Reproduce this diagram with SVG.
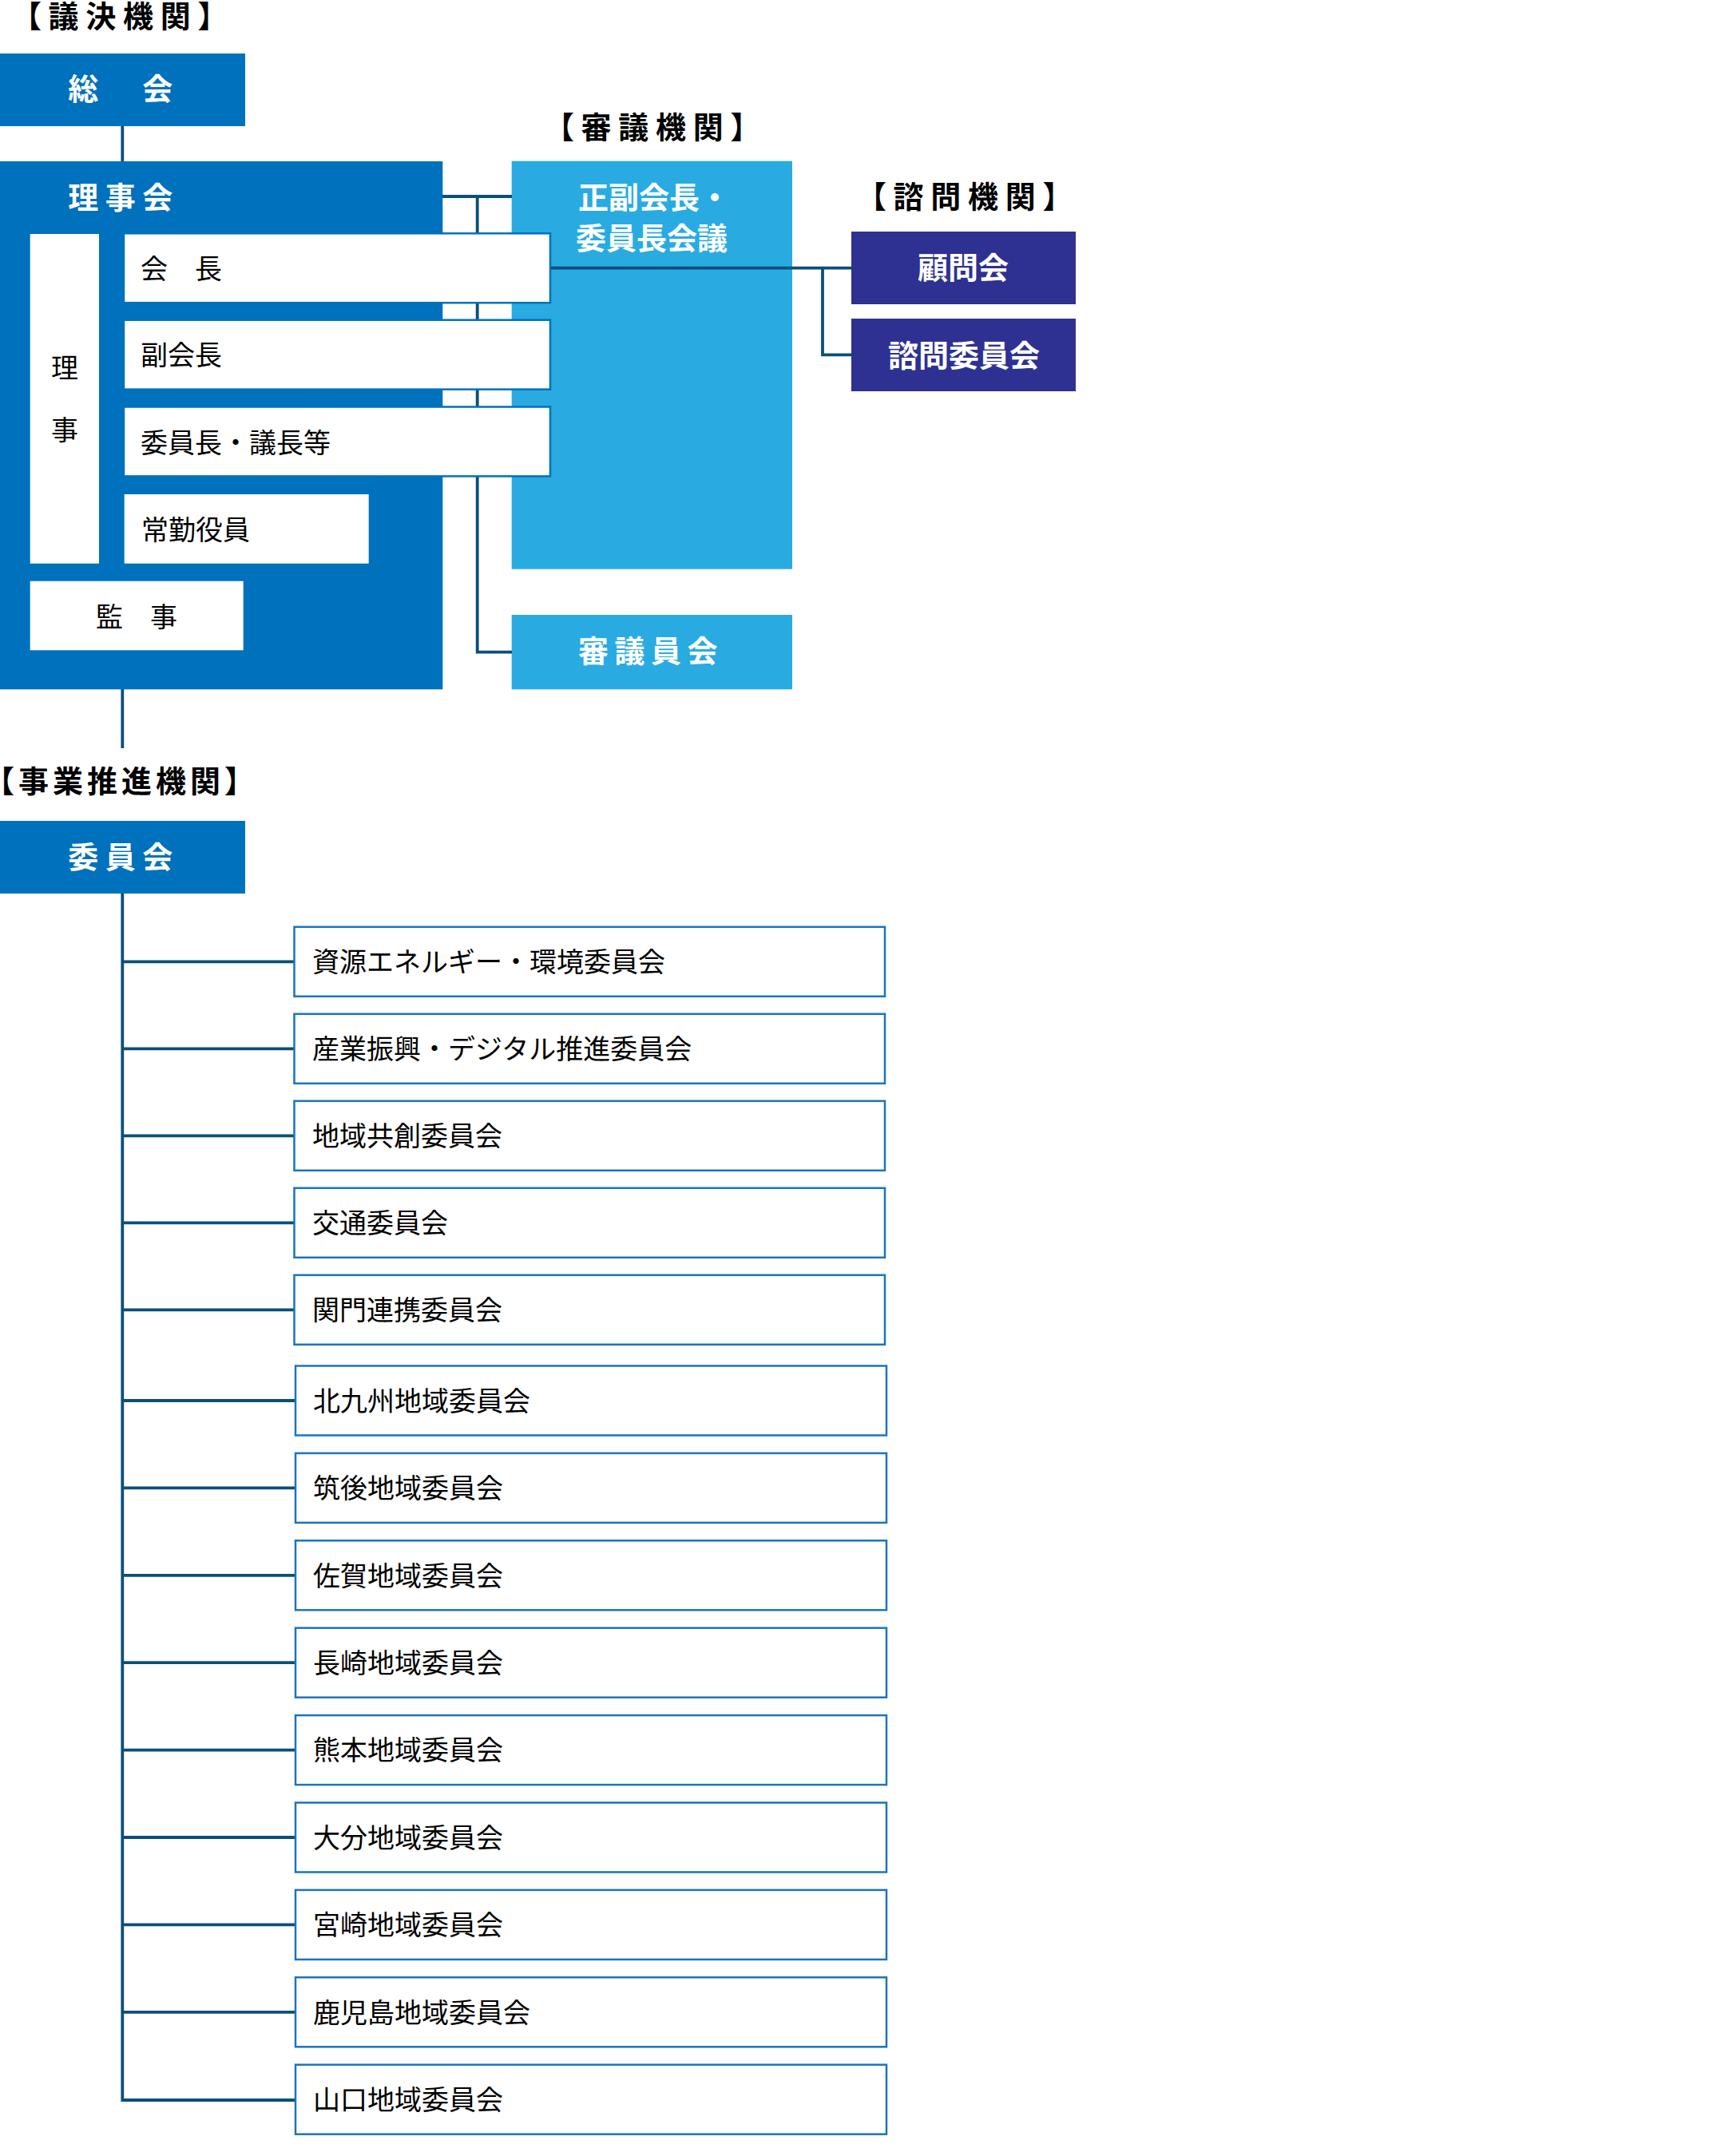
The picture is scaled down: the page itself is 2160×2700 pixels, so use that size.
<svg xmlns="http://www.w3.org/2000/svg" width="2160" height="2700" viewBox="0 0 2160 2700">
<style>
.dk{fill:#0071bc}
.lt{fill:#29abe2}
.nv{fill:#2e3192}
.wb{fill:#fff}
.wbs{fill:#fff;stroke:#0071bc;stroke-width:2.5}
.cb{fill:#fff;stroke:#1a74bf;stroke-width:2.5}
.ln{stroke:#0a4f7c;stroke-width:3.8;fill:none;stroke-linejoin:miter}
.hd{font-family:"Noto Sans CJK JP","Noto Sans",sans-serif;font-weight:700;font-size:38px;fill:#000}
.wl{font-family:"Noto Sans CJK JP","Noto Sans",sans-serif;font-weight:700;font-size:38px;fill:#fff}
.bl{font-family:"Noto Sans CJK JP","Noto Sans",sans-serif;font-weight:400;font-size:34px;fill:#000}
.ct{font-family:"Noto Sans CJK JP","Noto Sans",sans-serif;font-weight:400;font-size:34px;fill:#000}
</style>
<rect width="2160" height="2700" fill="#fff"/>

<!-- Headings -->
<g id="headings">
<text class="hd" x="154" y="34" text-anchor="middle" letter-spacing="8.7">【議決機関】</text>
<text class="hd" x="821" y="173" text-anchor="middle" letter-spacing="8.7">【審議機関】</text>
<text class="hd" x="1212" y="260" text-anchor="middle" letter-spacing="8.7">【諮問機関】</text>
<text class="hd" x="152" y="992" text-anchor="middle" letter-spacing="5">【事業推進機関】</text>
</g>

<!-- Main nodes (backgrounds) -->
<g id="soukai">
<rect class="dk" x="0" y="67" width="307" height="91"/>
<text class="wl" x="155" y="125" text-anchor="middle" letter-spacing="8.5">総　会</text>
</g>
<g id="rijikai">
<rect class="dk" x="0" y="202" width="554.3" height="661.3"/>
<text class="wl" x="155" y="261" text-anchor="middle" letter-spacing="8.5">理事会</text>
</g>
<g id="seifuku">
<rect class="lt" x="640.7" y="201.7" width="351.3" height="511"/>
<text class="wl" x="819" y="261" text-anchor="middle">正副会長・</text>
<text class="wl" x="816" y="312" text-anchor="middle">委員長会議</text>
</g>
<g id="shingiinkai">
<rect class="lt" x="640.7" y="770" width="351.3" height="93.3"/>
<text class="wl" x="815" y="829" text-anchor="middle" letter-spacing="7.5">審議員会</text>
</g>
<g id="komonkai">
<rect class="nv" x="1066" y="290" width="281" height="91"/>
<text class="wl" x="1206" y="349" text-anchor="middle">顧問会</text>
</g>
<g id="shimon">
<rect class="nv" x="1066" y="399" width="281" height="91"/>
<text class="wl" x="1207" y="459" text-anchor="middle">諮問委員会</text>
</g>
<g id="iinkai">
<rect class="dk" x="0" y="1028" width="307" height="91"/>
<text class="wl" x="155" y="1087" text-anchor="middle" letter-spacing="8.5">委員会</text>
</g>

<!-- Connectors -->
<g id="connectors">
<path class="ln" d="M153.3 158 V202"/>
<path class="ln" d="M554 246 H641"/>
<path class="ln" d="M597.7 246 V816.7 H641"/>
<path class="ln" d="M690 335.7 H1066"/>
<path class="ln" d="M1030 335.7 V444.3 H1066"/>
<path class="ln" d="M153.3 863 V937"/>
<path class="ln" d="M153.3 1119 V2630 H369"/>
<path class="ln" d="M153.3 1204.3 H368"/>
<path class="ln" d="M153.3 1313.3 H368"/>
<path class="ln" d="M153.3 1422.3 H368"/>
<path class="ln" d="M153.3 1531.3 H368"/>
<path class="ln" d="M153.3 1640.3 H368"/>
<path class="ln" d="M153.3 1754 H369"/>
<path class="ln" d="M153.3 1863.4 H369"/>
<path class="ln" d="M153.3 1972.8 H369"/>
<path class="ln" d="M153.3 2082.2 H369"/>
<path class="ln" d="M153.3 2191.6 H369"/>
<path class="ln" d="M153.3 2301 H369"/>
<path class="ln" d="M153.3 2410.4 H369"/>
<path class="ln" d="M153.3 2519.8 H369"/>
</g>

<!-- Inner member boxes of 理事会 -->
<g id="riji">
<rect class="wb" x="37.7" y="293" width="86.3" height="412.7"/>
<text class="bl" x="81" y="473" text-anchor="middle">理</text>
<text class="bl" x="81" y="551" text-anchor="middle">事</text>
</g>
<g id="kaicho">
<rect class="wbs" x="155" y="292.3" width="534" height="86.9"/>
<text class="bl" x="176" y="349">会　長</text>
</g>
<g id="fukukaicho">
<rect class="wbs" x="155" y="400.7" width="534" height="86.9"/>
<text class="bl" x="176" y="457">副会長</text>
</g>
<g id="iincho">
<rect class="wbs" x="155" y="509.5" width="534" height="86.9"/>
<text class="bl" x="176" y="567">委員長・議長等</text>
</g>
<g id="jokin">
<rect class="wb" x="155.7" y="619" width="306" height="86.7"/>
<text class="bl" x="177" y="676">常勤役員</text>
</g>
<g id="kanji">
<rect class="wb" x="37.7" y="727.7" width="267" height="86.6"/>
<text class="bl" x="171" y="785" text-anchor="middle">監　事</text>
</g>

<!-- Committees -->
<g id="c01"><rect class="cb" x="368.5" y="1160.8" width="739.5" height="87"/><text class="ct" x="391" y="1217">資源エネルギー・環境委員会</text></g>
<g id="c02"><rect class="cb" x="368.5" y="1269.8" width="739.5" height="87"/><text class="ct" x="391" y="1326">産業振興・デジタル推進委員会</text></g>
<g id="c03"><rect class="cb" x="368.5" y="1378.8" width="739.5" height="87"/><text class="ct" x="391" y="1435">地域共創委員会</text></g>
<g id="c04"><rect class="cb" x="368.5" y="1487.8" width="739.5" height="87"/><text class="ct" x="391" y="1544">交通委員会</text></g>
<g id="c05"><rect class="cb" x="368.5" y="1596.8" width="739.5" height="87"/><text class="ct" x="391" y="1653">関門連携委員会</text></g>
<g id="c06"><rect class="cb" x="370" y="1710.5" width="740" height="87"/><text class="ct" x="392" y="1767">北九州地域委員会</text></g>
<g id="c07"><rect class="cb" x="370" y="1819.9" width="740" height="87"/><text class="ct" x="392" y="1876">筑後地域委員会</text></g>
<g id="c08"><rect class="cb" x="370" y="1929.3" width="740" height="87"/><text class="ct" x="392" y="1986">佐賀地域委員会</text></g>
<g id="c09"><rect class="cb" x="370" y="2038.7" width="740" height="87"/><text class="ct" x="392" y="2095">長崎地域委員会</text></g>
<g id="c10"><rect class="cb" x="370" y="2148.1" width="740" height="87"/><text class="ct" x="392" y="2204">熊本地域委員会</text></g>
<g id="c11"><rect class="cb" x="370" y="2257.5" width="740" height="87"/><text class="ct" x="392" y="2314">大分地域委員会</text></g>
<g id="c12"><rect class="cb" x="370" y="2366.9" width="740" height="87"/><text class="ct" x="392" y="2423">宮崎地域委員会</text></g>
<g id="c13"><rect class="cb" x="370" y="2476.3" width="740" height="87"/><text class="ct" x="392" y="2533">鹿児島地域委員会</text></g>
<g id="c14"><rect class="cb" x="370" y="2585.7" width="740" height="87"/><text class="ct" x="392" y="2642">山口地域委員会</text></g>
</svg>
